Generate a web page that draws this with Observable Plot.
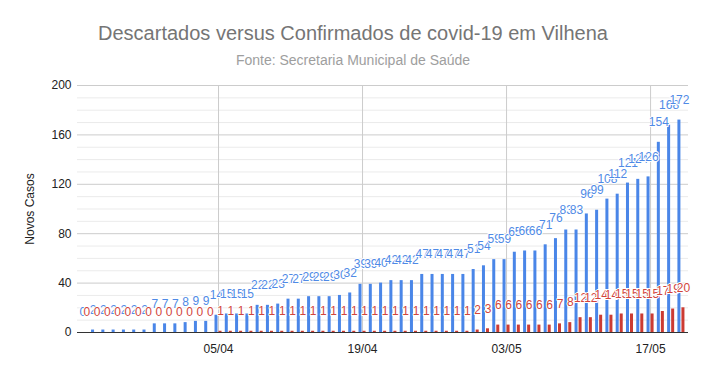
<!DOCTYPE html>
<html>
<head>
<meta charset="utf-8">
<script src="https://cdn.jsdelivr.net/npm/d3@7"></script>
<script src="https://cdn.jsdelivr.net/npm/@observablehq/plot@0.6"></script>
<style>
  html, body { margin: 0; padding: 0; background: #fff; }
  #wrap { position: relative; width: 706px; height: 371px; font-family: "Liberation Sans", Arial, sans-serif; }
  #title { position: absolute; left: 0; width: 706px; top: 22px; text-align: center; font-size: 20px; line-height: 22px; color: #757575; }
  #subtitle { position: absolute; left: 0; width: 706px; top: 52px; text-align: center; font-size: 14px; line-height: 16px; color: #9e9e9e; }
  #chart { position: absolute; left: 0; top: 72px; }
</style>
</head>
<body>
<div id="wrap">
  <div id="title">Descartados versus Confirmados de covid-19 em Vilhena</div>
  <div id="subtitle">Fonte: Secretaria Municipal de Saúde</div>
  <div id="chart"></div>
</div>
<script>
const dias = ["23/03","24/03","25/03","26/03","27/03","28/03","29/03","30/03","31/03",
  "01/04","02/04","03/04","04/04","05/04","06/04","07/04","08/04","09/04","10/04","11/04","12/04","13/04","14/04","15/04","16/04","17/04","18/04","19/04","20/04","21/04","22/04","23/04","24/04","25/04","26/04","27/04","28/04","29/04","30/04",
  "01/05","02/05","03/05","04/05","05/05","06/05","07/05","08/05","09/05","10/05","11/05","12/05","13/05","14/05","15/05","16/05","17/05","18/05","19/05","20/05"];
const descartados = [0,2,2,2,2,2,2,7,7,7,8,9,9,14,15,15,15,22,22,23,27,27,29,29,29,30,32,39,39,40,42,42,42,47,47,47,47,47,51,54,59,59,65,66,66,71,76,83,83,96,99,108,112,121,124,126,154,168,172];
const confirmados = [0,0,0,0,0,0,0,0,0,0,0,0,0,1,1,1,1,1,1,1,1,1,1,1,1,1,1,1,1,1,1,1,1,1,1,1,1,1,2,3,6,6,6,6,6,6,7,8,12,12,14,14,15,15,15,15,17,19,20];
const xTickLabels = ["05/04","19/04","03/05","17/05"];
const yTicks = [0,40,80,120,160,200];
const seriesNames = ["Descartados","Confirmados"];
const colors = {Descartados: "#4a86e8", Confirmados: "#cc3b33"};
const labelColors = {Descartados: "#4f8ae6", Confirmados: "#d2453c"};

const parse = s => { const [d, m] = s.split("/").map(Number); return new Date(Date.UTC(2020, m - 1, d)); };
const hrs = (date, h) => new Date(date.getTime() + h * 3600 * 1000);

const blueRows = dias.map((s, i) => {
  const date = parse(s);
  return {series: seriesNames[0], date, value: descartados[i], a: hrs(date, -8.2), b: hrs(date, -1.2), c: hrs(date, -4.7)};
});
const redRows = dias.map((s, i) => {
  const date = parse(s);
  return {series: seriesNames[1], date, value: confirmados[i], a: hrs(date, 1.2), b: hrs(date, 8.2), c: hrs(date, 4.7)};
});
const rows = blueRows.concat(redRows);
const xTicks = xTickLabels.map(parse);
const minorTicks = d3.range(0, 201, 10).filter(v => v % 40 !== 0);
const first = parse(dias[0]), last = parse(dias[dias.length - 1]);

const chart = Plot.plot({
  width: 706,
  height: 299,
  marginTop: 13,
  marginBottom: 39,
  marginLeft: 77,
  marginRight: 18,
  style: {fontFamily: "'Liberation Sans', Arial, sans-serif", fontSize: "12px", color: "#222", background: "#fff"},
  x: {type: "utc", domain: [hrs(first, -17), hrs(last, 16.5)]},
  y: {domain: [0, 200]},
  marks: [
    Plot.ruleY(minorTicks, {stroke: "#ebebeb", strokeWidth: 1}),
    Plot.ruleY(yTicks.filter(v => v > 0), {stroke: "#cccccc", strokeWidth: 1}),
    Plot.ruleX(xTicks, {stroke: "#cccccc", strokeWidth: 1}),
    Plot.axisY({ticks: yTicks, tickSize: 0, tickPadding: 6, fontSize: 12, label: "Novos Casos", labelAnchor: "center", labelArrow: "none", labelOffset: 52}),
    Plot.axisX({ticks: xTicks, tickSize: 0, tickPadding: 12, tickFormat: d3.utcFormat("%d/%m"), fontSize: 12, label: null}),
    Plot.rectY(rows, {x1: "a", x2: "b", y: "value", fill: d => colors[d.series]}),
    Plot.ruleY([0], {stroke: "#333", strokeWidth: 1}),
    Plot.text(blueRows, {x: "c", y: "value", text: d => String(d.value), dy: -20, fill: labelColors.Descartados, stroke: "white", strokeWidth: 2, fontSize: 12}),
    Plot.text(redRows, {x: "c", y: "value", text: d => String(d.value), dy: -20, fill: labelColors.Confirmados, stroke: "white", strokeWidth: 2, fontSize: 12})
  ]
});
document.getElementById("chart").appendChild(chart);
</script>
</body>
</html>
